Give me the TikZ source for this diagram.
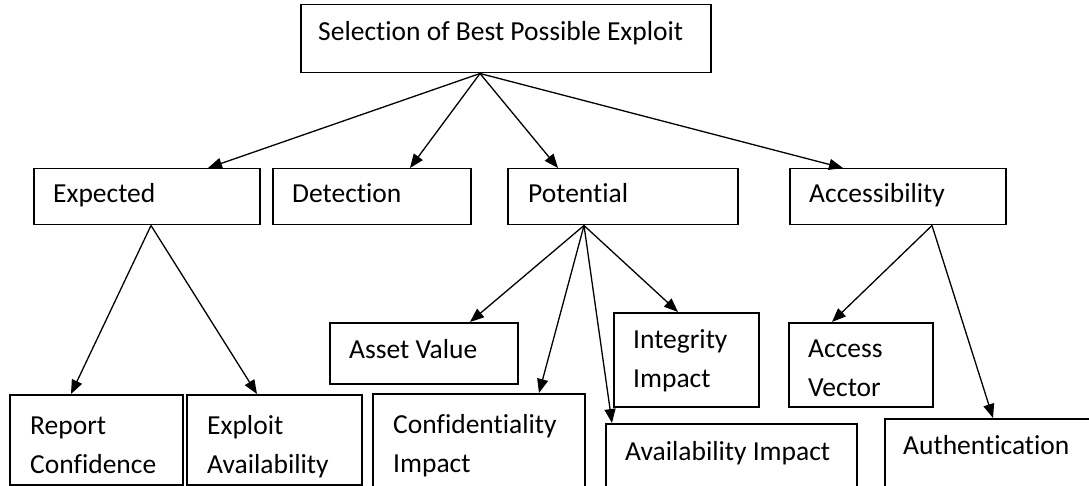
\documentclass[tikz,border=0pt]{standalone}
\usepackage{fontspec}
\setmainfont{Carlito}[Ligatures=NoCommon]
\usetikzlibrary{arrows.meta}

% two-line box text, first baseline at the anchor
\newcommand{\twolines}[2]{\begin{tabular}[t]{@{}l@{}}#1\\#2\end{tabular}}

\begin{document}
\begin{tikzpicture}[x=1pt, y=-1pt,
  box/.style={draw, line width=1.5pt, inner sep=0pt, anchor=north west},
  txt/.style={anchor=base west, inner sep=0pt, xshift=#1, yshift=-36pt,
    font=\fontsize{27.5}{39}\selectfont},
  txt/.default=20pt,
  arr/.style={line width=1.3pt, -{Triangle[length=14pt,width=11pt]}}]
  \useasboundingbox (0,0) rectangle (1089,486);
  \clip (0,0) rectangle (1089,486);

  % root
  \node[box, minimum width=410pt, minimum height=68pt,
        label={[txt=18pt, yshift=-1pt]north west:Selection of Best Possible Exploit}]
        (root) at (300,4) {};

  % second level
  \node[box, minimum width=226pt, minimum height=56pt,
        label={[txt, yshift=1pt]north west:Expected}] (exp) at (33,168) {};
  \node[box, minimum width=198pt, minimum height=56pt,
        label={[txt, yshift=1pt]north west:Detection}] (det) at (272,168) {};
  \node[box, minimum width=230pt, minimum height=56pt,
        label={[txt=21pt, yshift=1pt]north west:Potential}] (pot) at (507,168) {};
  \node[box, minimum width=216pt, minimum height=56pt,
        label={[txt, yshift=1pt]north west:Accessibility}] (acc) at (789,168) {};

  % third level
  \node[box, minimum width=188pt, minimum height=61pt,
        label={[txt]north west:Asset Value}] (asset) at (329,322) {};
  \node[box, minimum width=145pt, minimum height=94pt,
        label={[txt]north west:\twolines{Integrity}{Impact}}] (integ) at (613,312) {};
  \node[box, minimum width=144pt, minimum height=84pt,
        label={[txt, yshift=1pt]north west:\twolines{Access}{Vector}}] (vec) at (788,322) {};

  % bottom row
  \node[box, minimum width=173pt, minimum height=90pt,
        label={[txt=21pt, yshift=-4pt]north west:\twolines{Report}{Confidence}}] (rep) at (9,394) {};
  \node[box, minimum width=175pt, minimum height=90pt,
        label={[txt=21pt, yshift=-4pt]north west:\twolines{Exploit}{Availability}}] (expl) at (186,394) {};
  \node[box, minimum width=212pt, minimum height=110pt,
        label={[txt=21pt, yshift=-4pt]north west:\twolines{Confidentiality}{Impact}}] (conf) at (372,393) {};
  \node[box, minimum width=251pt, minimum height=80pt,
        label={[txt=20pt, yshift=-1pt]north west:Availability Impact}] (avail) at (605,423) {};
  \node[box, minimum width=220pt, minimum height=85pt,
        label={[txt=19pt, yshift=-0pt]north west:Authentication}] (auth) at (884,418) {};

  % connectors from the root
  \draw[arr] ([xshift=180pt]root.south west) -- ([xshift=175pt]exp.north west);
  \draw[arr] ([xshift=180pt]root.south west) -- ([xshift=138pt]det.north west);
  \draw[arr] ([xshift=180pt]root.south west) -- ([xshift=51pt]pot.north west);
  \draw[arr] ([xshift=180pt]root.south west) -- ([xshift=54pt]acc.north west);

  % connectors from Expected
  \draw[arr] ([xshift=118pt]exp.south west) -- ([xshift=62pt]rep.north west);
  \draw[arr] ([xshift=118pt]exp.south west) -- ([xshift=71pt]expl.north west);

  % connectors from Potential
  \draw[arr] ([xshift=77pt]pot.south west) -- ([xshift=141pt]asset.north west);
  \draw[arr] ([xshift=77pt]pot.south west) -- ([xshift=167pt]conf.north west);
  \draw[arr] ([xshift=77pt]pot.south west) -- ([xshift=65pt]integ.north west);
  \draw[arr] ([xshift=77pt]pot.south west) -- ([xshift=7pt]avail.north west);

  % connectors from Accessibility
  \draw[arr] ([xshift=143pt]acc.south west) -- ([xshift=44pt]vec.north west);
  \draw[arr] ([xshift=143pt]acc.south west) -- ([xshift=109pt]auth.north west);
\end{tikzpicture}
\end{document}
